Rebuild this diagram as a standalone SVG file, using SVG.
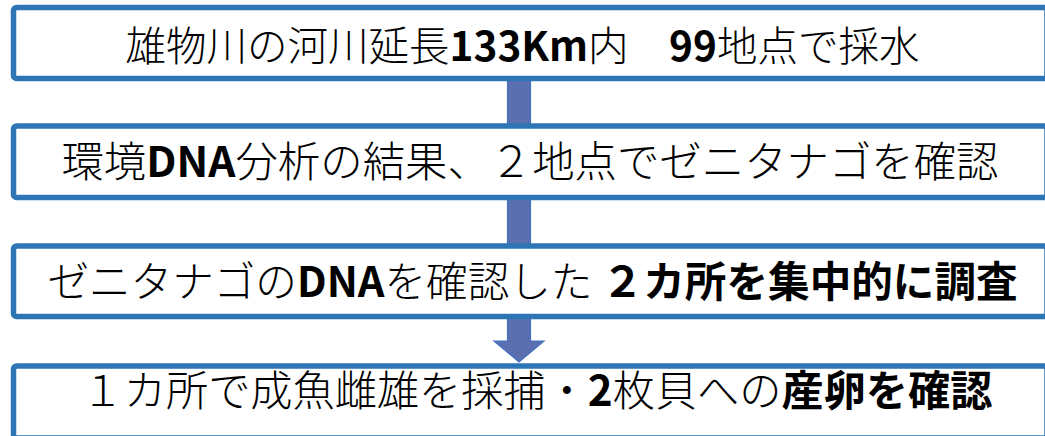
<svg xmlns="http://www.w3.org/2000/svg" width="1045" height="436" viewBox="0 0 1045 436">
<defs>
<style>
.box{fill:#fff;stroke:#2e75b6;stroke-width:5.5}
.arrow{fill:#5a6fb0;stroke:#4472c4;stroke-width:1.2}
.t{font-family:"Noto Sans CJK JP","Noto Sans",sans-serif;font-size:42px;font-weight:300;fill:#000;text-anchor:middle}
.b{font-weight:700}
</style>
</defs>
<g id="connectors">
<path class="arrow" d="M507.5,79 H530.5 V141 H544 L519,165 L494,141 H507.5 Z"/>
<path class="arrow" d="M507.5,198 H530.5 V260 H544 L519,284 L494,260 H507.5 Z"/>
<path class="arrow" d="M507.5,317 H530.5 V341 H544 L519,362 L494,341 H507.5 Z"/>
</g>
<g id="node1">
<rect class="box" x="13.5" y="7.5" width="1033.5" height="71" rx="3"/>
<text class="t" x="522.5" y="61" style="font-size:40.5px">雄物川の河川延長<tspan class="b">133Km</tspan>内　<tspan class="b">99</tspan>地点で採水</text>
</g>
<g id="node2">
<rect class="box" x="13.5" y="126" width="1033.5" height="71.5" rx="3"/>
<text class="t" x="530" y="177" style="font-size:42.4px">環境<tspan class="b">DNA</tspan>分析の結果、２地点でゼニタナゴを確認</text>
</g>
<g id="node3">
<rect class="box" x="13.5" y="246" width="1033.5" height="70.5" rx="3"/>
<text class="t" x="532.5" y="297" style="font-size:41.6px">ゼニタナゴの<tspan class="b">DNA</tspan>を確認した <tspan class="b">２カ所を集中的に調査</tspan></text>
</g>
<g id="node4">
<rect class="box" x="13.5" y="366" width="1033.5" height="72" rx="3"/>
<text class="t" x="537" y="406" style="font-size:42.2px">１カ所で成魚雌雄を採捕・<tspan class="b">2</tspan>枚貝への<tspan class="b">産卵を確認</tspan></text>
</g>
</svg>
